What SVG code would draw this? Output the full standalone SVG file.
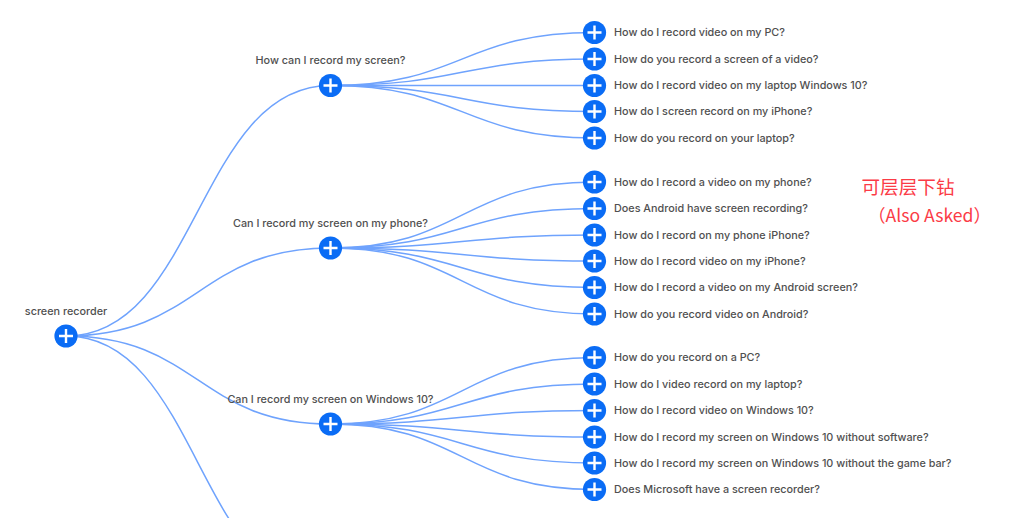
<svg xmlns="http://www.w3.org/2000/svg" width="1024" height="518" viewBox="0 0 1024 518">
<style>
.l{fill:none;stroke:#6fa3fd;stroke-width:1.5}
.c{fill:#0a6cf5}
.p{stroke:#fff;stroke-width:2.4;fill:none}
.t{font-family:Inter,"Liberation Sans",sans-serif;font-size:10.8px;font-weight:500;fill:#505050}
.m{text-anchor:middle}
.r{font-family:"Noto Sans CJK SC","Noto Sans",sans-serif;font-size:18.6px;fill:#fb3b46}
.e{font-size:17.6px}
</style>
<defs>
<g id="b"><circle class="c" r="11.6"/><path class="p" d="M-7 0H7M0-7V7"/></g>
</defs>
<rect width="1024" height="518" fill="#fff"/>
<g id="connectors">
<path class="l" d="M66 336C198 336 198 85.500 330.500 85.500"/>
<path class="l" d="M66 336C198 336 198 248 330.500 248"/>
<path class="l" d="M66 336C198 336 198 424 330.500 424"/>
<path class="l" d="M66 336C198 336 198 590 330.500 590"/>
<path class="l" d="M330.500 85.500C462 85.500 462 32.500 594.500 32.500"/>
<path class="l" d="M330.500 85.500C462 85.500 462 59 594.500 59"/>
<path class="l" d="M330.500 85.500H594.500"/>
<path class="l" d="M330.500 85.500C462 85.500 462 111.500 594.500 111.500"/>
<path class="l" d="M330.500 85.500C462 85.500 462 138 594.500 138"/>
<path class="l" d="M330.500 248C462 248 462 182 594.500 182"/>
<path class="l" d="M330.500 248C462 248 462 208.500 594.500 208.500"/>
<path class="l" d="M330.500 248C462 248 462 235 594.500 235"/>
<path class="l" d="M330.500 248C462 248 462 261 594.500 261"/>
<path class="l" d="M330.500 248C462 248 462 287.500 594.500 287.500"/>
<path class="l" d="M330.500 248C462 248 462 314 594.500 314"/>
<path class="l" d="M330.500 424C462 424 462 357.500 594.500 357.500"/>
<path class="l" d="M330.500 424C462 424 462 384 594.500 384"/>
<path class="l" d="M330.500 424C462 424 462 410.500 594.500 410.500"/>
<path class="l" d="M330.500 424C462 424 462 437 594.500 437"/>
<path class="l" d="M330.500 424C462 424 462 463 594.500 463"/>
<path class="l" d="M330.500 424C462 424 462 489.500 594.500 489.500"/>
</g>
<g id="root"><use href="#b" x="66" y="336"/><text class="t m" x="66" y="314.500">screen recorder</text></g>
<g id="q1"><use href="#b" x="330.500" y="85.500"/><text class="t m" x="330.500" y="63.500">How can I record my screen?</text></g>
<g id="q2"><use href="#b" x="330.500" y="248"/><text class="t m" x="330.500" y="226.500">Can I record my screen on my phone?</text></g>
<g id="q3"><use href="#b" x="330.500" y="424"/><text class="t m" x="330.500" y="402.500">Can I record my screen on Windows 10?</text></g>
<g id="a1"><use href="#b" x="594.500" y="32.500"/><text class="t" x="614" y="36">How do I record video on my PC?</text></g>
<g id="a2"><use href="#b" x="594.500" y="59"/><text class="t" x="614" y="62.500">How do you record a screen of a video?</text></g>
<g id="a3"><use href="#b" x="594.500" y="85.500"/><text class="t" x="614" y="89">How do I record video on my laptop Windows 10?</text></g>
<g id="a4"><use href="#b" x="594.500" y="111.500"/><text class="t" x="614" y="115">How do I screen record on my iPhone?</text></g>
<g id="a5"><use href="#b" x="594.500" y="138"/><text class="t" x="614" y="141.500">How do you record on your laptop?</text></g>
<g id="b1"><use href="#b" x="594.500" y="182"/><text class="t" x="614" y="185.500">How do I record a video on my phone?</text></g>
<g id="b2"><use href="#b" x="594.500" y="208.500"/><text class="t" x="614" y="212">Does Android have screen recording?</text></g>
<g id="b3"><use href="#b" x="594.500" y="235"/><text class="t" x="614" y="238.500">How do I record on my phone iPhone?</text></g>
<g id="b4"><use href="#b" x="594.500" y="261"/><text class="t" x="614" y="264.500">How do I record video on my iPhone?</text></g>
<g id="b5"><use href="#b" x="594.500" y="287.500"/><text class="t" x="614" y="291">How do I record a video on my Android screen?</text></g>
<g id="b6"><use href="#b" x="594.500" y="314"/><text class="t" x="614" y="317.500">How do you record video on Android?</text></g>
<g id="c1"><use href="#b" x="594.500" y="357.500"/><text class="t" x="614" y="361">How do you record on a PC?</text></g>
<g id="c2"><use href="#b" x="594.500" y="384"/><text class="t" x="614" y="387.500">How do I video record on my laptop?</text></g>
<g id="c3"><use href="#b" x="594.500" y="410.500"/><text class="t" x="614" y="414">How do I record video on Windows 10?</text></g>
<g id="c4"><use href="#b" x="594.500" y="437"/><text class="t" x="614" y="440.500">How do I record my screen on Windows 10 without software?</text></g>
<g id="c5"><use href="#b" x="594.500" y="463"/><text class="t" x="614" y="466.500">How do I record my screen on Windows 10 without the game bar?</text></g>
<g id="c6"><use href="#b" x="594.500" y="489.500"/><text class="t" x="614" y="493">Does Microsoft have a screen recorder?</text></g>
<g id="note"><text class="r" x="861.500" y="194">可层层下钻</text><text class="r e" x="868" y="222">（Also Asked）</text></g>
</svg>
